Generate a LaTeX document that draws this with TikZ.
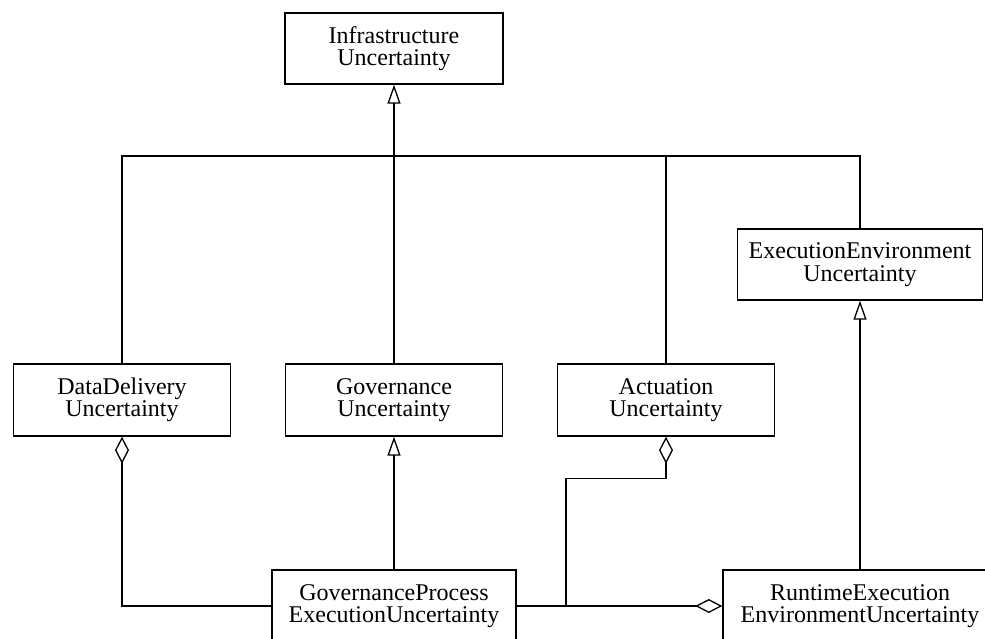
\documentclass[tikz,border=0pt]{standalone}
\usepackage{fontspec}
\setmainfont{Liberation Serif}
\usetikzlibrary{arrows.meta}
\tikzset{
  cls/.style={draw, line width=1.4pt, rectangle, align=center, inner sep=0pt,
    font=\fontsize{24}{22.5}\selectfont},
  conn/.style={line width=1.3pt},
  gen/.style={conn, -{Triangle[open, length=19pt, width=13pt, line width=1.3pt]}},
  aggS/.style={conn, {Diamond[open, length=27pt, width=14pt, line width=1.3pt]}-},
  aggE/.style={conn, -{Diamond[open, length=27pt, width=14pt, line width=1.3pt]}},
}
\begin{document}
\begin{tikzpicture}[x=1pt, y=-1pt]
\useasboundingbox (0,0) rectangle (985,639);
\clip (0,0) rectangle (985,639);
\node[cls, minimum width=218pt, minimum height=71pt] (infra) at (394,48.5) {Infrastructure\\Uncertainty};
\node[cls, minimum width=217pt, minimum height=72pt] (dd) at (122,400) {DataDelivery\\Uncertainty};
\node[cls, minimum width=217pt, minimum height=72pt] (gov) at (394,400) {Governance\\Uncertainty};
\node[cls, minimum width=217pt, minimum height=72pt] (act) at (666,400) {Actuation\\Uncertainty};
\node[cls, minimum width=245pt, minimum height=71pt] (ee) at (860,264.5) {ExecutionEnvironment\\Uncertainty};
\node[cls, minimum width=244pt, minimum height=72pt] (gp) at (394,606) {GovernanceProcess\\ExecutionUncertainty};
\node[cls, minimum width=274pt, minimum height=72pt] (rte) at (860,606) {RuntimeExecution\\EnvironmentUncertainty};
\coordinate (bus) at (394,156);
\coordinate (j) at (566,606);
% generalization tree
\draw[gen] (bus) -- (infra.south);
\draw[conn] (dd.north) |- (bus);
\draw[conn] (gov.north) -- (bus);
\draw[conn] (act.north) |- (bus);
\draw[conn] (ee.north) |- (bus);
% other generalizations
\draw[gen] (gp.north) -- (gov.south);
\draw[gen] (rte.north) -- (ee.south);
% aggregations
\draw[aggS] (dd.south) |- (gp.west);
\draw[aggS] (act.south) -- ++(0,42) -| (j);
\draw[aggE] (gp.east) -- (rte.west);
\end{tikzpicture}
\end{document}
